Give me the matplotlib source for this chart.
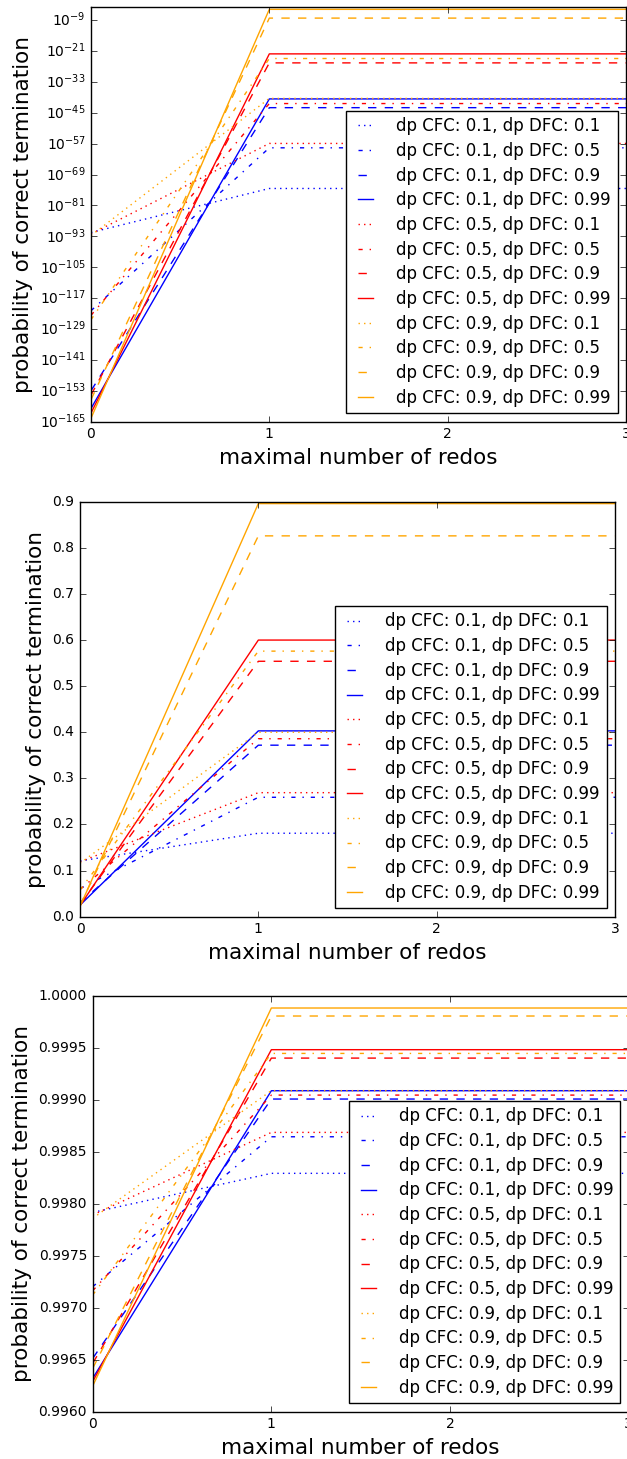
import matplotlib
matplotlib.use('Agg')
import matplotlib.pyplot as plt
import numpy as np
from matplotlib.ticker import FormatStrFormatter, LogFormatterMathtext, NullLocator

plt.style.use('classic')

# maximal number of redos
redos = [0, 1, 2, 3]

cfc_levels = [0.1, 0.5, 0.9]
dfc_levels = [0.1, 0.5, 0.9, 0.99]
colors = ['b', 'r', 'orange']
styles = [':', '-.', '--', '-']

# series order: for each dp CFC, dp DFC = 0.1, 0.5, 0.9, 0.99
# top plot (log scale), given as log10 of the probability
log_start = [-91.5, -121.9, -153.0, -159.9,
             -92.1, -123.7, -154.7, -161.7,
             -92.7, -125.4, -156.5, -163.7]
log_plateau = [-74.4, -58.6, -43.0, -39.6,
               -56.9, -41.4, -25.6, -22.1,
               -39.4, -23.9, -8.2, -4.8]

# middle plot
mid_start = [0.121, 0.061, 0.030, 0.025,
             0.119, 0.059, 0.027, 0.024,
             0.116, 0.058, 0.025, 0.022]
mid_plateau = [0.181, 0.259, 0.372, 0.403,
               0.269, 0.386, 0.554, 0.600,
               0.400, 0.576, 0.826, 0.896]

# bottom plot
low_start = [0.997918, 0.997203, 0.996513, 0.996321,
             0.997893, 0.997164, 0.996465, 0.996289,
             0.997861, 0.997123, 0.996417, 0.996247]
low_plateau = [0.998294, 0.998646, 0.999009, 0.999089,
               0.998688, 0.999047, 0.999403, 0.999484,
               0.999090, 0.999448, 0.999808, 0.999885]


def curves(start, plateau):
    # value with no redo, then the same value for every redo count >= 1
    return [[s, p, p, p] for s, p in zip(start, plateau)]


fig = plt.figure(figsize=(6.27, 14.59), dpi=100, facecolor='white')

panels = [
    ([0.1451, 0.7110, 0.8533, 0.2840], curves(10.0 ** np.array(log_start), 10.0 ** np.array(log_plateau))),
    ([0.1276, 0.3717, 0.8533, 0.2844], curves(mid_start, mid_plateau)),
    ([0.1478, 0.0324, 0.8550, 0.2849], curves(low_start, low_plateau)),
]

for i, (rect, data) in enumerate(panels):
    ax = fig.add_axes(rect)
    k = 0
    for ci, cfc in enumerate(cfc_levels):
        for si, dfc in enumerate(dfc_levels):
            ax.plot(redos, data[k], color=colors[ci], linestyle=styles[si], linewidth=1.0,
                    label='dp CFC: %s, dp DFC: %s' % (cfc, dfc))
            k += 1

    if i == 0:
        ax.set_yscale('log')
        ax.set_ylim(1e-165, 1e-4)
        ax.set_yticks([10.0 ** e for e in range(-165, 0, 12)])
        ax.yaxis.set_major_formatter(LogFormatterMathtext())
        ax.yaxis.set_minor_locator(NullLocator())
    elif i == 1:
        ax.set_ylim(0.0, 0.9)
        ax.set_yticks(np.arange(0.0, 0.91, 0.1))
        ax.yaxis.set_major_formatter(FormatStrFormatter('%.1f'))
    else:
        ax.set_ylim(0.996, 1.0)
        ax.set_yticks(np.arange(0.996, 1.00001, 0.0005))
        ax.yaxis.set_major_formatter(FormatStrFormatter('%.4f'))

    ax.set_xlim(0, 3)
    ax.set_xticks(redos)
    ax.tick_params(labelsize=10)
    ax.set_xlabel('maximal number of redos', fontsize=15.5)
    ax.set_ylabel('probability of correct termination', fontsize=15.5)
    ax.legend(loc='lower right', fontsize=12, handlelength=1.5, handletextpad=1.1,
              labelspacing=0.4)

fig.savefig('out.png', dpi=100, facecolor='white')
